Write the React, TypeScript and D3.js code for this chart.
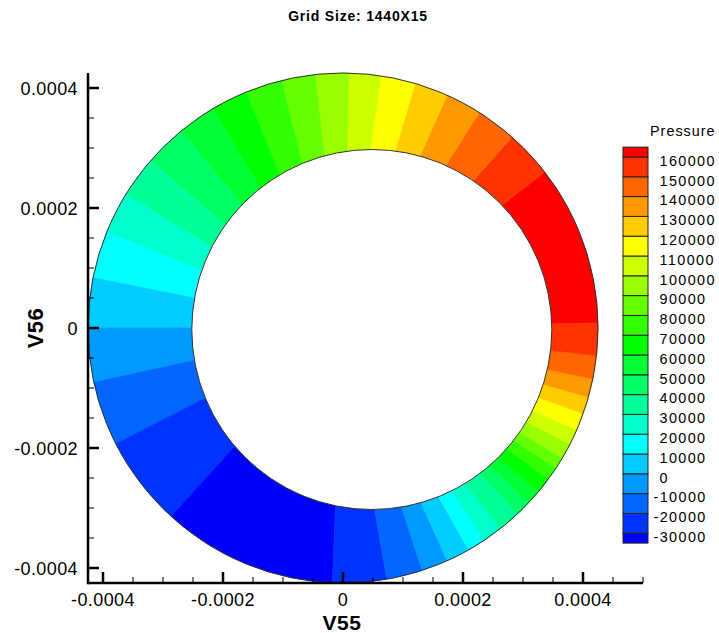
import React from "react";
import * as d3 from "d3";

const W = 719;
const H = 633;

// Contour levels shown in the legend
const levels = [
  -30000, -20000, -10000, 0, 10000, 20000, 30000, 40000, 50000, 60000, 70000,
  80000, 90000, 100000, 110000, 120000, 130000, 140000, 150000, 160000,
];
// Flood colours: index 0 = below -30000 ... index 20 = above 160000
const bandColors = [
  "#0000ff", "#0033ff", "#0066ff", "#0099ff", "#00ccff", "#00ffff", "#00ffcc",
  "#00ff99", "#00ff66", "#00ff33", "#00ff00", "#33ff00", "#66ff00", "#99ff00",
  "#ccff00", "#ffff00", "#ffcc00", "#ff9900", "#ff6600", "#ff3300", "#ff0000",
];

// Angular positions (deg, counter-clockwise from +V55, around the bearing centre)
// of the contour band boundaries in the film
const boundaryDeg = [
  1.1, 37.7, 48.5, 57.7, 65.9, 73.6, 81.4, 88.7, 96.3, 104.0, 112.4, 120.7,
  129.4, 139.0, 148.4, 157.9, 168.6, 180.0, 192.3, 207.0, 227.6, 267.6, 279.9,
  288.1, 294.1, 299.5, 303.7, 308.1, 313.2, 316.8, 320.2, 323.7, 326.7, 329.4,
  332.9, 336.5, 340.4, 344.3, 348.5, 353.8, 361.1,
];
// Colour band index between consecutive boundaries
const bandIndex = [
  20, 19, 18, 17, 16, 15, 14, 13, 12, 11, 10, 9, 8, 7, 6, 5, 4, 3, 2, 1, 0, 1,
  2, 3, 4, 5, 6, 7, 8, 9, 10, 11, 12, 13, 14, 15, 16, 17, 18, 19,
];

// Geometry (data units)
const bearingRadius = 0.000425;
const journalRadius = 0.0003;
const journalCenter = [0.000048, -0.0000025];

// Axes
const xDomain = [-0.000425, 0.0005];
const yDomain = [-0.000425, 0.000425];
const majorTicks = [-0.0004, -0.0002, 0, 0.0002, 0.0004];
const majorLabels = ["-0.0004", "-0.0002", "0", "0.0002", "0.0004"];
const minorStep = 0.00005;

const FONT = "'Liberation Sans', Arial, Helvetica, sans-serif";

export default function App() {
  const x = d3.scaleLinear().domain(xDomain).range([88, 643]);
  const y = d3.scaleLinear().domain(yDomain).range([583, 73]);
  const cx = x(0);
  const cy = y(0);
  const Rpx = x(bearingRadius) - x(0);
  const rpx = x(journalRadius) - x(0);

  const arc = d3.arc<any>();
  const wedges = bandIndex.map((ci, i) => {
    const a1 = boundaryDeg[i];
    const a2 = boundaryDeg[i + 1];
    const d = arc({
      innerRadius: 0,
      outerRadius: Rpx,
      startAngle: ((90 - a2) * Math.PI) / 180,
      endAngle: ((90 - a1) * Math.PI) / 180,
    });
    return { d, color: bandColors[ci] };
  });

  const minorX = d3
    .range(-20, 21)
    .map((i) => i * minorStep)
    .filter((v) => v >= xDomain[0] - 1e-12 && v <= xDomain[1] + 1e-12)
    .filter((v) => !majorTicks.some((m) => Math.abs(m - v) < 1e-10));
  const minorY = d3
    .range(-20, 21)
    .map((i) => i * minorStep)
    .filter((v) => v >= yDomain[0] - 1e-12 && v <= yDomain[1] + 1e-12)
    .filter((v) => !majorTicks.some((m) => Math.abs(m - v) < 1e-10));

  // Legend
  const yL = d3.scaleLinear().domain([160000, -30000]).range([157, 533.2]);
  const half = 5000;
  const legendBoxes = bandColors.map((c, i) => {
    const lo = i === 0 ? levels[0] - half : levels[i - 1];
    const hi = i === bandColors.length - 1 ? levels[levels.length - 1] + half : levels[i];
    return { c, y0: yL(hi), y1: yL(lo) };
  });

  const axisColor = "#000";

  return (
    <svg
      width={W}
      height={H}
      style={{ position: "absolute", left: 0, top: 0, background: "#fff" }}
      fontFamily={FONT}
    >
      <rect width={W} height={H} fill="#fff" />
      {/* Title */}
      <text
        x={358}
        y={21}
        textAnchor="middle"
        fontSize={14}
        fontWeight="bold"
        letterSpacing={0.8}
      >
        Grid Size: 1440X15
      </text>

      {/* Flood wedges */}
      <g transform={`translate(${cx},${cy})`}>
        {wedges.map((w, i) => (
          <path key={i} d={w.d || ""} fill={w.color} stroke={w.color} strokeWidth={0.6} />
        ))}
      </g>
      <circle cx={cx} cy={cy} r={Rpx} fill="none" stroke="#333" strokeWidth={1} />
      <circle
        cx={x(journalCenter[0])}
        cy={y(journalCenter[1])}
        r={rpx}
        fill="#fff"
        stroke="#333"
        strokeWidth={1}
      />

      {/* Axes */}
      <line x1={x(xDomain[0])} x2={x(xDomain[1])} y1={583} y2={583} stroke={axisColor} strokeWidth={2.5} />
      <line x1={88} x2={88} y1={y(yDomain[0]) + 1.2} y2={y(yDomain[1])} stroke={axisColor} strokeWidth={2.5} />
      {majorTicks.map((t) => (
        <line key={"mx" + t} x1={x(t)} x2={x(t)} y1={583} y2={572} stroke={axisColor} strokeWidth={2.5} />
      ))}
      {minorX.map((t) => (
        <line key={"nx" + t} x1={x(t)} x2={x(t)} y1={583} y2={577} stroke={axisColor} strokeWidth={1} />
      ))}
      {majorTicks.map((t) => (
        <line key={"my" + t} x1={88} x2={99} y1={y(t)} y2={y(t)} stroke={axisColor} strokeWidth={2.5} />
      ))}
      {minorY.map((t) => (
        <line key={"ny" + t} x1={88} x2={94} y1={y(t)} y2={y(t)} stroke={axisColor} strokeWidth={1} />
      ))}
      {majorTicks.map((t, i) => (
        <text key={"lx" + t} x={x(t)} y={606} textAnchor="middle" fontSize={18} letterSpacing={0.4}>
          {majorLabels[i]}
        </text>
      ))}
      {majorTicks.map((t, i) => (
        <text
          key={"ly" + t}
          x={78}
          y={y(t) + 7}
          textAnchor="end"
          fontSize={18}
          letterSpacing={0.4}
        >
          {majorLabels[i]}
        </text>
      ))}
      <text x={342} y={630} textAnchor="middle" fontSize={21} fontWeight="bold" letterSpacing={0.5}>
        V55
      </text>
      <text
        transform={`translate(43,${cy}) rotate(-90)`}
        textAnchor="middle"
        fontSize={22}
        fontWeight="bold"
        letterSpacing={0.5}
      >
        V56
      </text>

      {/* Legend */}
      <text x={650} y={136} fontSize={14.4} letterSpacing={1}>
        Pressure
      </text>
      {legendBoxes.map((b, i) => (
        <rect
          key={"lb" + i}
          x={623}
          y={b.y0}
          width={25}
          height={b.y1 - b.y0}
          fill={b.c}
          stroke="#222"
          strokeWidth={1}
        />
      ))}
      {levels.map((v) => (
        <text
          key={"ll" + v}
          x={v < 0 ? 653.5 : 659.5}
          y={yL(v) + 8.7}
          fontSize={14.4}
          letterSpacing={1.4}
        >
          {String(v)}
        </text>
      ))}
    </svg>
  );
}
